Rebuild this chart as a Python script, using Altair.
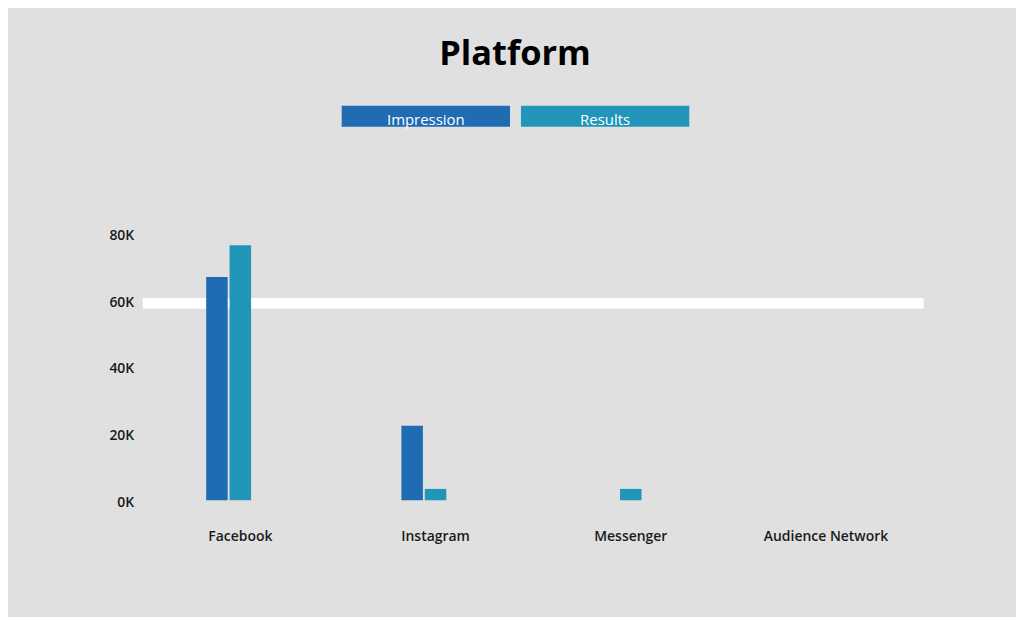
import altair as alt
import pandas as pd

platforms = ["Facebook", "Instagram", "Messenger", "Audience Network"]
series = ["Impression", "Results"]
impression = [66900, 22300, 0, 0]
results = [76400, 3400, 3400, 0]
reference_line = [59000]
colors = ["#1f6cb2", "#2196b9"]
offset_slots = ["Impression", "Results", "_spare"]

rows = []
for p, i, r in zip(platforms, impression, results):
    rows.append({"platform": p, "series": "Impression", "value": i})
    rows.append({"platform": p, "series": "Results", "value": r})
df = pd.DataFrame(rows)
df = df[df["value"] > 0]

font = "Open Sans"

x_scale = alt.Scale(domain=platforms, paddingInner=0.65, paddingOuter=0.325)
color_scale = alt.Scale(domain=series, range=colors)

rule = alt.Chart(pd.DataFrame({"y": reference_line})).mark_rule(
    color="white", strokeWidth=11
).encode(y=alt.Y("y:Q"))

bars = alt.Chart(df).mark_bar().encode(
    x=alt.X("platform:N", scale=x_scale, sort=platforms,
            axis=alt.Axis(title=None, labelAngle=0, ticks=False, domain=False,
                          labelPadding=29, labelFontSize=14, labelFontWeight=600,
                          labelColor="#1a1a1a", labelFont=font)),
    xOffset=alt.XOffset("series:N", scale=alt.Scale(domain=offset_slots, paddingInner=0.08)),
    y=alt.Y("value:Q", scale=alt.Scale(domain=[0, 80000]),
            axis=alt.Axis(title=None, values=[0, 20000, 40000, 60000, 80000],
                          labelExpr="datum.value / 1000 + 'K'", ticks=False,
                          domain=False, grid=False, labelPadding=9,
                          labelOffset=2, labelFontSize=14, labelFontWeight=600,
                          labelColor="#1a1a1a", labelFont=font)),
    color=alt.Color("series:N", scale=color_scale, legend=None),
)

main = alt.layer(rule, bars).properties(width=784, height=268)

leg_df = pd.DataFrame({"series": series})
leg_x = alt.X("series:N", scale=alt.Scale(domain=series, paddingInner=0.061,
                                          paddingOuter=0.1139, align=0), axis=None)
leg_bars = alt.Chart(leg_df).mark_bar().encode(
    x=leg_x,
    color=alt.Color("series:N", scale=color_scale, legend=None),
)
leg_text = alt.Chart(leg_df).mark_text(
    color="white", fontSize=15, font=font, dy=4
).encode(x=leg_x, text="series:N")
legend = alt.layer(leg_bars, leg_text).properties(width=390, height=21)

chart = alt.vconcat(legend, main, spacing=100, center=True).properties(
    title=alt.TitleParams("Platform", fontSize=34.5, font=font, fontWeight="bold",
                          color="#000000", anchor="middle", offset=33, dx=-4),
    padding={"left": 101, "top": 28, "right": 87, "bottom": 73},
    background="#e0e0e0",
).configure_view(stroke=None)

chart.save("out.html", embed_options={"renderer": "svg", "actions": False})
